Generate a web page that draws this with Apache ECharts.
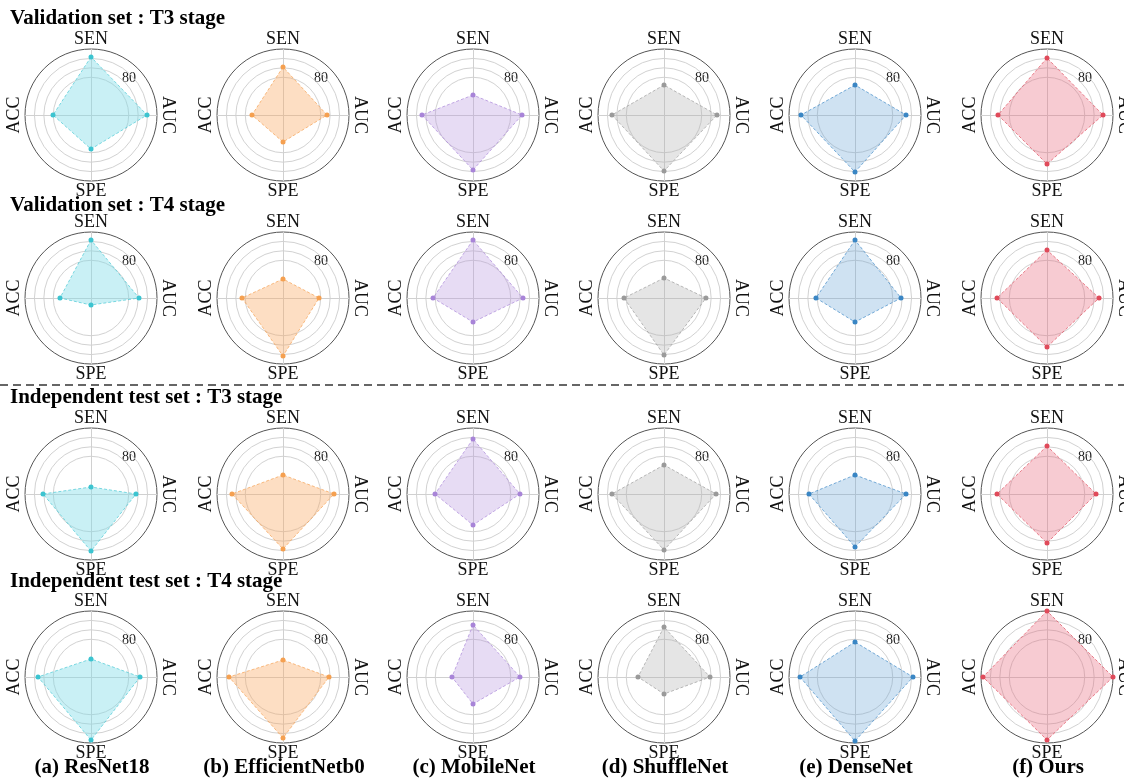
<!DOCTYPE html>
<html>
<head>
<meta charset="utf-8">
<script src="https://cdn.jsdelivr.net/npm/echarts@6/dist/echarts.min.js"></script>
<style>
html,body{margin:0;padding:0;background:#fff;}
#chart{width:1124px;height:778px;}
</style>
</head>
<body>
<div id="chart"></div>
<script>
// ---- data (values in order SEN, AUC, SPE, ACC) ----
const models = ['ResNet18', 'EfficientNetb0', 'MobileNet', 'ShuffleNet', 'DenseNet', 'Ours'];
const modelLabels = ['(a) ResNet18', '(b) EfficientNetb0', '(c) MobileNet', '(d) ShuffleNet', '(e) DenseNet', '(f) Ours'];
const metrics = ['SEN', 'AUC', 'SPE', 'ACC'];
const rowTitles = ['Validation set : T3 stage', 'Validation set : T4 stage', 'Independent test set : T3 stage', 'Independent test set : T4 stage'];
const radialMin = 30;
const radialMax = 100;
const radialTickLabel = '80';

const valT3 = [
  [91.5, 89.4, 66.1, 70.3],
  [80.9, 76.7, 58.6, 62.9],
  [51.2, 82.0, 88.3, 84.1],
  [61.8, 86.2, 89.4, 85.2],
  [61.8, 84.1, 90.5, 87.3],
  [90.5, 89.4, 82.0, 82.0]
];
const valT4 = [
  [91.5, 80.9, 37.4, 62.9],
  [50.2, 68.2, 91.5, 73.5],
  [91.5, 83.0, 55.5, 72.4],
  [51.2, 74.5, 90.5, 72.4],
  [91.5, 78.8, 55.5, 71.4],
  [80.9, 85.2, 82.0, 83.0]
];
const testT3 = [
  [37.4, 77.7, 90.5, 80.9],
  [50.2, 84.1, 88.3, 84.1],
  [88.3, 79.8, 62.9, 70.3],
  [60.8, 85.2, 89.4, 85.2],
  [50.2, 84.1, 86.2, 78.8],
  [80.9, 82.0, 82.0, 83.0]
];
const testT4 = [
  [49.1, 82.0, 96.8, 86.2],
  [48.0, 78.8, 94.7, 87.3],
  [85.2, 79.8, 58.6, 52.3],
  [83.0, 78.8, 48.0, 57.6],
  [67.1, 91.5, 97.9, 88.3],
  [100, 100, 96.8, 97.9]
];
const rowsData = [valT3, valT4, testT3, testT4];

// ---- styling / layout ----
const markerColors = ['#3cc4d0', '#f5a050', '#a884d8', '#9a9a9a', '#3a86c4', '#e04a5a'];
const areaColors = ['#7fdce6', '#fba862', '#b898e0', '#b0b0b0', '#6aa4d6', '#e8687a'];
const areaOpacity = [0.42, 0.38, 0.34, 0.33, 0.32, 0.34];
const colX = [91, 283, 473, 664, 855, 1047];
const rowY = [115, 298, 494, 677];
const titleY = [20, 207, 399, 583];
const R = 66;
const FONT = '"Liberation Serif", "Times New Roman", serif';

// radar draws indicators counterclockwise from top: SEN, ACC, SPE, AUC
const order = [0, 3, 2, 1];
const ringColors = ['rgba(0,0,0,0)', 'rgba(0,0,0,0)', 'rgba(0,0,0,0)', 'rgba(0,0,0,0)', '#d2d2d2', '#d2d2d2', '#d2d2d2', '#555555'];

const radars = [];
const series = [];
const graphics = [];

rowsData.forEach((rowData, r) => {
  graphics.push({
    type: 'text', left: 10, top: titleY[r] - 12,
    style: { text: rowTitles[r], font: 'bold 21px ' + FONT, fill: '#000' }
  });
  rowData.forEach((vals, c) => {
    const cx = colX[c], cy = rowY[r];
    const idx = radars.length;
    radars.push({
      center: [cx, cy],
      radius: R,
      startAngle: 90,
      shape: 'circle',
      splitNumber: (radialMax - radialMin) / 10,
      indicator: order.map(i => ({ name: metrics[i], min: radialMin, max: radialMax })),
      axisName: { show: false },
      axisLine: { lineStyle: { color: '#d0d0d0', width: 1 } },
      axisTick: { show: false },
      axisLabel: { show: false },
      splitLine: { lineStyle: { color: ringColors, width: 1 } },
      splitArea: { show: false }
    });
    series.push({
      type: 'radar',
      radarIndex: idx,
      symbol: 'circle',
      symbolSize: 5,
      silent: true,
      data: [{
        value: order.map(i => vals[i]),
        name: models[c],
        itemStyle: { color: markerColors[c] },
        lineStyle: { color: markerColors[c], width: 1, type: [3, 2], opacity: 0.7 },
        areaStyle: { color: areaColors[c], opacity: areaOpacity[c] }
      }]
    });
    const labelFont = '18px ' + FONT;
    graphics.push({ type: 'text', x: cx, y: cy - 76, style: { text: metrics[0], font: labelFont, fill: '#111', align: 'center', verticalAlign: 'middle' } });
    graphics.push({ type: 'text', x: cx, y: cy + 76, style: { text: metrics[2], font: labelFont, fill: '#111', align: 'center', verticalAlign: 'middle' } });
    graphics.push({ type: 'text', x: cx + 77, y: cy, rotation: -Math.PI / 2, style: { text: metrics[1], font: labelFont, fill: '#111', align: 'center', verticalAlign: 'middle' } });
    graphics.push({ type: 'text', x: cx - 77, y: cy, rotation: Math.PI / 2, style: { text: metrics[3], font: labelFont, fill: '#111', align: 'center', verticalAlign: 'middle' } });
    graphics.push({ type: 'text', x: cx + 38, y: cy - 37, style: { text: radialTickLabel, font: '14px ' + FONT, fill: '#222', align: 'center', verticalAlign: 'middle' } });
  });
});

modelLabels.forEach((lab, c) => {
  graphics.push({ type: 'text', x: colX[c] + 1, y: 768, style: { text: lab, font: 'bold 21px ' + FONT, fill: '#000', align: 'center', verticalAlign: 'middle' } });
});

graphics.push({
  type: 'line', shape: { x1: 0, y1: 385, x2: 1124, y2: 385 },
  style: { stroke: '#666', lineWidth: 2, lineDash: [8, 5] }
});

const chart = echarts.init(document.getElementById('chart'), null, { renderer: 'canvas' });
chart.setOption({
  animation: false,
  backgroundColor: '#fff',
  radar: radars,
  series: series,
  graphic: { elements: graphics }
});
</script>
</body>
</html>
